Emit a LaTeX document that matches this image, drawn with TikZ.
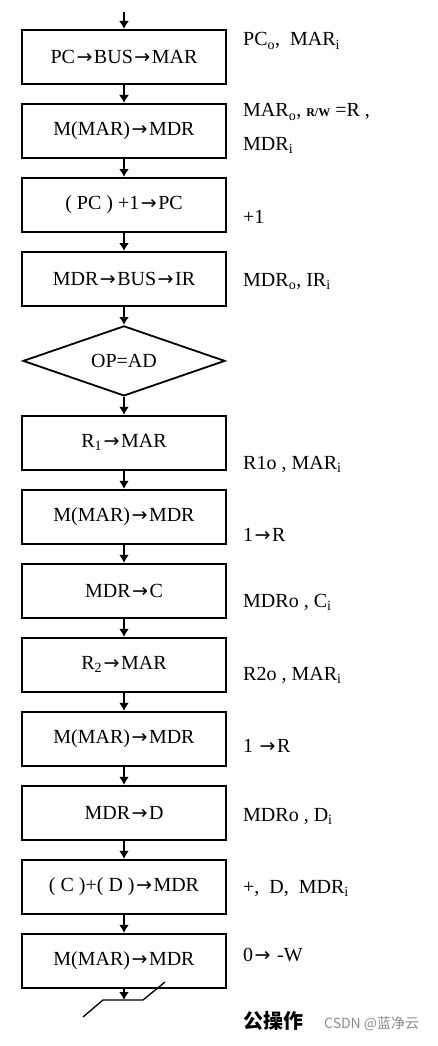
\documentclass[tikz,border=0pt]{standalone}
\usepackage{fontspec}
\setmainfont{Liberation Serif}
\newfontfamily\cjk{Noto Sans CJK SC}
\newfontfamily\arrowfont{DejaVu Sans}
\newcommand\ra{\kern1.5pt{\arrowfont\fontsize{19}{19}\selectfont →}\kern1.5pt}
\usetikzlibrary{positioning,shapes.geometric,arrows.meta}
\tikzset{
  box/.style={draw,line width=2pt,minimum width=204pt,minimum height=54pt,inner sep=2pt,font=\fontsize{20}{23}\selectfont},
  decide/.style={draw,diamond,line width=1.8pt,aspect=2.9,minimum width=202pt,minimum height=70pt,inner sep=1pt,font=\fontsize{20}{23}\selectfont},
  flow/.style={line width=2.2pt,-{Latex[length=8pt,width=10pt]}},
  note/.style={anchor=base west,inner sep=0pt,font=\fontsize{20}{23}\selectfont},
}
\begin{document}
\begin{tikzpicture}[x=1pt,y=-1pt,node distance=18pt]
        \useasboundingbox (0,0) rectangle (438,1046);
        %% boxes
        \node[box] (b1) at (124,57) {PC\ra BUS\ra MAR};
        \node[box,below=of b1] (b2) {M(MAR)\ra MDR};
        \node[box,below=of b2] (b3) {( PC ) +1\ra PC};
        \node[box,below=of b3] (b4) {MDR\ra BUS\ra IR};
        \node[decide,below=of b4] (op) {OP=AD};
        \node[box,below=of op] (b5) {R\textsubscript{1}\ra MAR};
        \node[box,below=of b5] (b6) {M(MAR)\ra MDR};
        \node[box,below=of b6] (b7) {MDR\ra C};
        \node[box,below=of b7] (b8) {R\textsubscript{2}\ra MAR};
        \node[box,below=of b8] (b9) {M(MAR)\ra MDR};
        \node[box,below=of b9] (b10) {MDR\ra D};
        \node[box,below=of b10] (b11) {( C )+( D )\ra MDR};
        \node[box,below=of b11] (b12) {M(MAR)\ra MDR};
        %% arrows
        \coordinate (start) at (124,12);
        \coordinate (end) at (124,1000);
        \draw[flow] (start) -- (b1);
        \foreach \a/\b in {b1/b2,b2/b3,b3/b4,b4/op,op/b5,b5/b6,b6/b7,b7/b8,b8/b9,b9/b10,b10/b11,b11/b12}
          \draw[flow] (\a) -- (\b);
        \draw[flow] (b12) -- (end);
        \draw[line width=1.3pt] (83,1017) -- (103,1000) -- (end) -- (143,1000) -- (165,982);
        %% control signals
        \node[note] (l1) at (243,46) {PC\textsubscript{o}, \ MAR\textsubscript{i}};
        \node[note] (l2) at (243,117) {MAR\textsubscript{o}, {\fontsize{12}{13}\selectfont\bfseries R/W} =R ,};
        \node[note] (l2b) at (243,150) {MDR\textsubscript{i}};
        \node[note] (l3) at (243,223) {+1};
        \node[note] (l4) at (243,286) {MDR\textsubscript{o}, IR\textsubscript{i}};
        \node[note] (l5) at (243,469) {R1o , MAR\textsubscript{i}};
        \node[note] (l6) at (243,541) {1\ra R};
        \node[note] (l7) at (243,607) {MDRo , C\textsubscript{i}};
        \node[note] (l8) at (243,680) {R2o , MAR\textsubscript{i}};
        \node[note] (l9) at (243,752) {1 \ra R};
        \node[note] (l10) at (243,821) {MDRo , D\textsubscript{i}};
        \node[note] (l11) at (243,893) {+, \ D, \ MDR\textsubscript{i}};
        \node[note] (l12) at (243,961) {0\ra\ -W};
        \node[note,font=\cjk\bfseries\fontsize{20}{22}\selectfont] (l13) at (243,1028) {公操作};
        \node[note,font=\cjk\fontsize{14}{16}\selectfont,text=black!45] (wm) at (324,1028) {CSDN @蓝净云};
    \end{tikzpicture}
\end{document}
